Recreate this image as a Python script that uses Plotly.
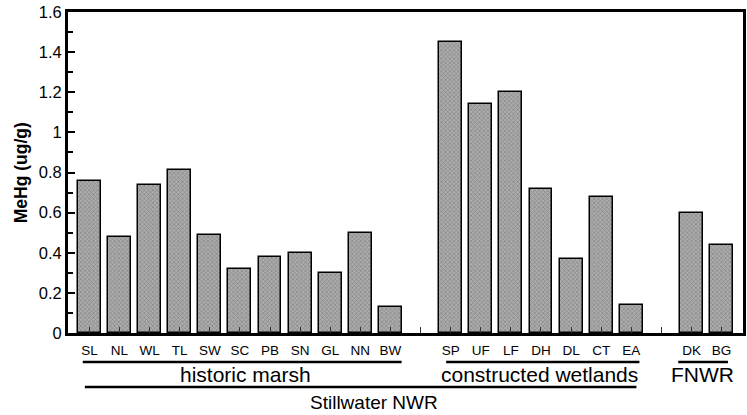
import plotly.graph_objects as go

# ---- data ----
historic_sites = ["SL", "NL", "WL", "TL", "SW", "SC", "PB", "SN", "GL", "NN", "BW"]
historic_vals = [0.76, 0.48, 0.74, 0.81, 0.49, 0.32, 0.38, 0.40, 0.30, 0.50, 0.13]
constructed_sites = ["SP", "UF", "LF", "DH", "DL", "CT", "EA"]
constructed_vals = [1.45, 1.14, 1.20, 0.72, 0.37, 0.68, 0.14]
fnwr_sites = ["DK", "BG"]
fnwr_vals = [0.60, 0.44]
group_names = ["historic marsh", "constructed wetlands", "FNWR"]
super_group = "Stillwater NWR"
y_title = "MeHg (ug/g)"

groups = [(historic_sites, historic_vals), (constructed_sites, constructed_vals), (fnwr_sites, fnwr_vals)]

# positions: one empty slot between groups
xs, labels, vals, spans = [], [], [], []
tickvals, ticktext = [], []
pos = 0
for gi, (sites, v) in enumerate(groups):
    start = pos
    for s, val in zip(sites, v):
        xs.append(pos); labels.append(s); vals.append(val)
        tickvals.append(pos); ticktext.append(s)
        pos += 1
    spans.append((start, pos - 1))
    if gi < len(groups) - 1:
        tickvals.append(pos); ticktext.append("")
        pos += 1

FONT = "Liberation Sans, Arial, sans-serif"

fig = go.Figure()
fig.add_trace(go.Bar(
    x=xs, y=vals, width=0.76,
    marker=dict(color="#a0a0a0",
                line=dict(color="black", width=1.5),
                pattern=dict(shape="x", size=3, solidity=0.4, fgcolor="#606060", bgcolor="#acacac")),
    hovertext=labels,
))

fig.update_layout(
    width=747, height=415,
    margin=dict(l=68, r=1, t=12, b=82),
    plot_bgcolor="white", paper_bgcolor="white",
    showlegend=False,
    font=dict(family=FONT, color="black"),
    bargap=0,
)
fig.update_xaxes(
    range=[-0.71, pos - 1 + 0.71],
    tickmode="array", tickvals=tickvals, ticktext=ticktext,
    ticks="inside", ticklen=6, tickwidth=1, tickcolor="#333",
    tickfont=dict(size=13.5, family=FONT), ticklabelstandoff=3,
    showline=True, linewidth=3, linecolor="black", mirror=True,
    showgrid=False, zeroline=False,
)
fig.update_yaxes(
    range=[0, 1.6], dtick=0.2, tickformat="~g",
    ticks="inside", ticklen=7, tickwidth=1.5, tickcolor="black",
    minor=dict(dtick=0.1, ticks="inside", ticklen=5, tickwidth=1.5, tickcolor="black"),
    tickfont=dict(size=16.5, family=FONT),
    showline=True, linewidth=3, linecolor="black", mirror=True,
    showgrid=False, zeroline=False,
)

# group underlines and labels
line_pad = [(-0.22, 0.37), (-0.15, 0.27), (-0.44, 0.21)]
text_x = [5.18, 14.96, 20.35]
for (a, b), (pl, pr), name, tx in zip(spans, line_pad, group_names, text_x):
    fig.add_shape(type="line", xref="x", yref="paper", x0=a + pl, x1=b + pr, y0=-0.09, y1=-0.09,
                  line=dict(color="black", width=2.5))
    fig.add_annotation(xref="x", yref="paper", x=tx, y=-0.128, text=name, showarrow=False,
                       font=dict(size=21, family=FONT), yanchor="middle")

fig.add_shape(type="line", xref="x", yref="paper", x0=spans[0][0] - 0.15, x1=spans[1][1] + 0.17,
              y0=-0.168, y1=-0.168, line=dict(color="black", width=2.5))
fig.add_annotation(xref="x", yref="paper", x=9.45, y=-0.217, text=super_group, showarrow=False,
                   font=dict(size=19, family=FONT), yanchor="middle")

fig.add_annotation(xref="paper", yref="paper", x=-0.07, y=0.5, text="<b>" + y_title + "</b>",
                   textangle=-90, showarrow=False, font=dict(size=17.5, family=FONT),
                   xanchor="center", yanchor="middle")

fig.write_html("out.html")
